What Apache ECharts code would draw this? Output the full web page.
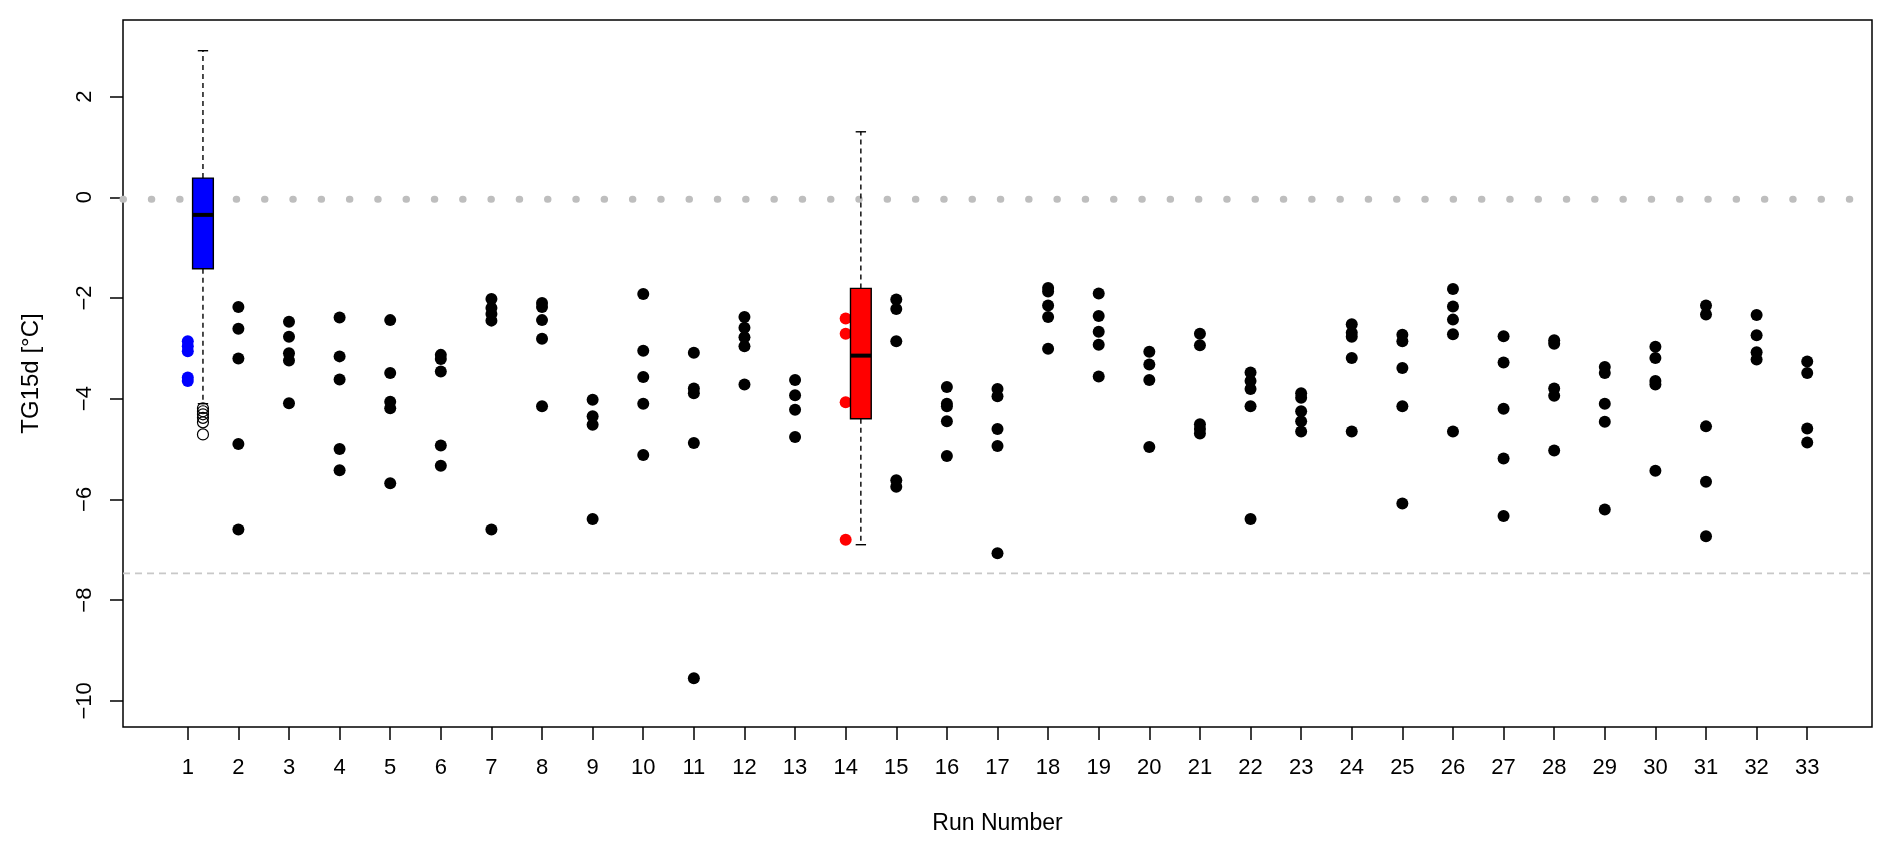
<!DOCTYPE html>
<html>
<head>
<meta charset="utf-8">
<title>TG15d by run</title>
<script src="https://cdn.jsdelivr.net/npm/echarts@6/dist/echarts.min.js"></script>
<style>
  html, body { margin: 0; padding: 0; background: #fff; }
  #main { width: 1892px; height: 851px; }
</style>
</head>
<body>
<div id="main"></div>
<script>
// run numbers on the x axis
var runs = [];
for (var i = 1; i <= 33; i++) runs.push(i);

// ensemble members per run
var runPoints = [
  [-2.86, -2.96, -3.06, -3.58, -3.65],
  [-2.18, -2.61, -3.2, -4.9, -6.6],
  [-2.47, -2.77, -3.1, -3.24, -4.09],
  [-2.39, -3.16, -3.62, -5.0, -5.42],
  [-2.44, -3.49, -4.06, -4.19, -5.68],
  [-3.13, -3.21, -3.46, -4.93, -5.33],
  [-2.02, -2.2, -2.32, -2.45, -6.6],
  [-2.1, -2.18, -2.44, -2.81, -4.15],
  [-4.02, -4.35, -4.52, -6.39],
  [-1.92, -3.05, -3.57, -4.1, -5.12],
  [-3.09, -3.8, -3.89, -4.88, -9.55],
  [-2.38, -2.59, -2.78, -2.96, -3.72],
  [-3.63, -3.93, -4.22, -4.76],
  [-2.41, -2.71, -4.07, -6.8],
  [-2.03, -2.22, -2.86, -5.62, -5.75],
  [-3.77, -4.1, -4.15, -4.45, -5.14],
  [-3.81, -3.95, -4.6, -4.94, -7.07],
  [-1.8, -1.87, -2.15, -2.38, -3.01],
  [-1.91, -2.36, -2.67, -2.93, -3.56],
  [-3.07, -3.32, -3.63, -4.96],
  [-2.71, -2.94, -4.51, -4.6, -4.69],
  [-3.48, -3.65, -3.81, -4.15, -6.39],
  [-3.89, -3.98, -4.25, -4.45, -4.65],
  [-2.52, -2.69, -2.77, -3.19, -4.65],
  [-2.73, -2.86, -3.39, -4.15, -6.08],
  [-1.82, -2.17, -2.43, -2.72, -4.65],
  [-2.76, -3.28, -4.2, -5.19, -6.33],
  [-2.84, -2.91, -3.8, -3.94, -5.03],
  [-3.37, -3.49, -4.1, -4.46, -6.2],
  [-2.97, -3.19, -3.65, -3.72, -5.43],
  [-2.15, -2.33, -4.55, -5.65, -6.73],
  [-2.34, -2.74, -3.08, -3.22],
  [-3.26, -3.49, -4.59, -4.87]
];

// highlighted runs
var blueRun = 1;
var redRun = 14;

// box plots: position, [min, Q1, median, Q3, max]
var boxPositions = [1.3, 14.3];
var boxStats = [
  [-4.1, -1.42, -0.35, 0.38, 2.91],
  [-6.9, -4.4, -3.145, -1.81, 1.30]
];
var boxColors = ['#0000ff', '#ff0000'];
var box1Outliers = [-4.19, -4.25, -4.31, -4.38, -4.47, -4.71];

// reference lines
var zeroLine = -0.04;
var lowLine = -7.47;

var yTicks = [-10, -8, -6, -4, -2, 0, 2];
var xMin = -0.28, xMax = 34.28;
var yMin = -10.52, yMax = 3.52;

var FONT = 'Liberation Sans, Arial, Helvetica, sans-serif';

var blackPts = [], bluePts = [], redPts = [];
runs.forEach(function (r, idx) {
  runPoints[idx].forEach(function (v) {
    if (r === blueRun) bluePts.push([r, v]);
    else if (r === redRun) redPts.push([r, v]);
    else blackPts.push([r, v]);
  });
});

var boxData = boxPositions.map(function (p, i) {
  return [p].concat(boxStats[i]).concat([i]);
});
var outlierData = box1Outliers.map(function (v) { return [boxPositions[0], v]; });

function renderBox(params, api) {
  var x = api.value(0);
  var lo = api.coord([x, api.value(1)]);
  var q1 = api.coord([x, api.value(2)]);
  var med = api.coord([x, api.value(3)]);
  var q3 = api.coord([x, api.value(4)]);
  var hi = api.coord([x, api.value(5)]);
  var w = api.size([0.41, 0])[0];
  var cx = med[0];
  var color = boxColors[api.value(6)];
  var dash = { stroke: '#000', lineWidth: 1.4, lineDash: [5, 4] };
  var solid = { stroke: '#000', lineWidth: 1.4 };
  return {
    type: 'group',
    children: [
      { type: 'line', shape: { x1: cx, y1: q3[1], x2: cx, y2: hi[1] }, style: dash },
      { type: 'line', shape: { x1: cx, y1: q1[1], x2: cx, y2: lo[1] }, style: dash },
      { type: 'line', shape: { x1: cx - w / 4, y1: hi[1], x2: cx + w / 4, y2: hi[1] }, style: solid },
      { type: 'line', shape: { x1: cx - w / 4, y1: lo[1], x2: cx + w / 4, y2: lo[1] }, style: solid },
      { type: 'rect', shape: { x: cx - w / 2, y: q3[1], width: w, height: q1[1] - q3[1] },
        style: { fill: color, stroke: '#000', lineWidth: 1.4 } },
      { type: 'line', shape: { x1: cx - w / 2, y1: med[1], x2: cx + w / 2, y2: med[1] },
        style: { stroke: '#000', lineWidth: 4 } }
    ]
  };
}

var chart = echarts.init(document.getElementById('main'));
var option = {
  animation: false,
  backgroundColor: '#fff',
  textStyle: { fontFamily: FONT },
  grid: {
    left: 123, right: 20, top: 20, bottom: 124,
    show: true, borderColor: '#000', borderWidth: 1.5, backgroundColor: 'transparent'
  },
  xAxis: {
    type: 'value', min: xMin, max: xMax,
    name: 'Run Number', nameLocation: 'middle', nameGap: 85,
    nameTextStyle: { fontSize: 23, color: '#000', fontFamily: FONT },
    axisLine: { show: false, onZero: false },
    splitLine: { show: false },
    axisTick: { show: true, length: 13, customValues: runs, lineStyle: { color: '#000', width: 1.5 } },
    axisLabel: { customValues: runs, fontSize: 22, color: '#000', margin: 30, fontFamily: FONT }
  },
  yAxis: {
    type: 'value', min: yMin, max: yMax,
    name: 'TG15d [°C]', nameLocation: 'middle', nameGap: 80,
    nameTextStyle: { fontSize: 24, color: '#000', fontFamily: FONT },
    axisLine: { show: false, onZero: false },
    splitLine: { show: false },
    axisTick: { show: true, length: 13, customValues: yTicks, lineStyle: { color: '#000', width: 1.5 } },
    axisLabel: {
      customValues: yTicks, fontSize: 22, color: '#000', rotate: 90, margin: 27, fontFamily: FONT,
      formatter: function (v) { return String(v).replace('-', '\u2212'); }
    }
  },
  series: [
    {
      type: 'line', silent: true, symbol: 'none', z: 1,
      data: [[xMin, zeroLine], [xMax, zeroLine]],
      lineStyle: { color: '#bebebe', width: 7, type: [0.5, 27.8], cap: 'round' }
    },
    {
      type: 'line', silent: true, symbol: 'none', z: 1,
      data: [[xMin, lowLine], [xMax, lowLine]],
      lineStyle: { color: '#c8c8c8', width: 1.6, type: [7, 5] }
    },
    {
      type: 'scatter', z: 2, symbolSize: 12, silent: true,
      itemStyle: { color: '#000', opacity: 1 },
      data: blackPts
    },
    {
      type: 'scatter', z: 2, symbolSize: 12, silent: true,
      itemStyle: { color: '#0000ff', opacity: 1 },
      data: bluePts
    },
    {
      type: 'scatter', z: 2, symbolSize: 12, silent: true,
      itemStyle: { color: '#ff0000', opacity: 1 },
      data: redPts
    },
    {
      type: 'custom', z: 3, silent: true,
      renderItem: renderBox,
      encode: { x: 0, y: [1, 2, 3, 4, 5] },
      data: boxData
    },
    {
      type: 'scatter', z: 4, symbolSize: 11, silent: true,
      itemStyle: { color: 'rgba(0,0,0,0)', borderColor: '#000', borderWidth: 1.2, opacity: 1 },
      data: outlierData
    }
  ]
};
chart.setOption(option);
</script>
</body>
</html>
